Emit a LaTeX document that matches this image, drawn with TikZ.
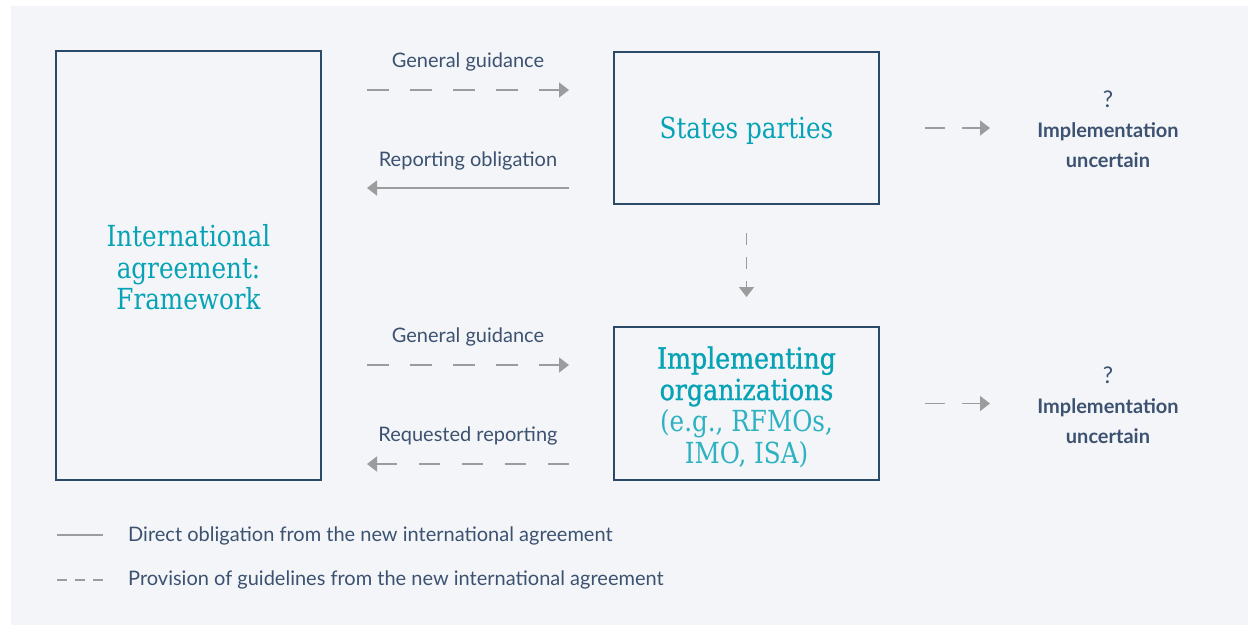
\documentclass[tikz,border=0pt]{standalone}
\usepackage{fontspec}
\setmainfont{Lato}
\newfontfamily\slab{DejaVu Serif}[FakeStretch=0.85]
\newfontfamily\slabsemi{DejaVu Serif}[FakeStretch=0.87,FakeBold=1]
\usetikzlibrary{arrows.meta}

\definecolor{panel}{HTML}{F3F5F8}
\definecolor{navy}{HTML}{2A4A68}
\definecolor{teal}{HTML}{06A2B6}
\definecolor{lightteal}{HTML}{2EB2C2}
\definecolor{ink}{HTML}{3C5270}
\definecolor{arrowgray}{HTML}{9B9C9E}

\begin{document}
\begin{tikzpicture}[x=1pt,y=-1pt,
  box/.style={draw=navy, line width=1.4pt, inner sep=0pt, outer sep=0pt},
  title/.style={align=center, text=teal, inner sep=0pt,
                font=\slab\fontsize{29}{31.5}\selectfont},
  lbl/.style={font=\fontsize{20}{24}\selectfont, text=ink, inner sep=0pt},
  outcome/.style={font=\bfseries\fontsize{20}{30}\selectfont, text=ink,
                  inner sep=0pt, align=center},
  direct/.style={draw=arrowgray, line width=1.6pt,
                 -{Triangle[length=10pt,width=15pt]}},
  guide/.style={direct, dash pattern=on 21.5pt off 21.5pt},
  shortguide/.style={direct, dash pattern=on 20pt off 17pt},
  vguide/.style={direct, dash pattern=on 12pt off 12pt},
  legline/.style={draw=arrowgray, line width=1.4pt}
]
\useasboundingbox (0,0) rectangle (1248,625);
\fill[panel] (11,6) rectangle (1248,625);

% main boxes
\node[box, minimum width=265pt, minimum height=429pt] (fw) at (188.5,265.5) {};
\node[box, minimum width=265pt, minimum height=152pt] (sp) at (746.5,128) {};
\node[box, minimum width=265pt, minimum height=153pt] (ip) at (746.5,403.5) {};

% box titles
\node[title] (fwt) at ([yshift=-2pt]fw.center)
  {International\\agreement:\\Framework};
\node[title] (spt) at ([yshift=-3pt]sp.center) {States parties};
\node[title] (ipt) at ([yshift=-3.5pt]ip.center)
  {{\slabsemi Implementing}\\{\slabsemi organizations}\\
   \textcolor{lightteal}{(e.g., RFMOs,}\\\textcolor{lightteal}{IMO, ISA)}};

% arrow labels
\node[lbl] (gg1) at (468,62) {General guidance};
\node[lbl] (ro)  at (468,161) {Reporting obligation};
\node[lbl] (gg2) at (468,337) {General guidance};
\node[lbl] (rr)  at (468,436) {Requested reporting};

% rows of the horizontal connectors
\coordinate (r1) at (0,90);
\coordinate (r2) at (0,188);
\coordinate (r3) at (0,365);
\coordinate (r4) at (0,464);

\draw[guide, shorten <=46pt, shorten >=45pt] (fw.east |- r1) -- (sp.west |- r1);
\draw[direct, shorten <=45pt, shorten >=46pt] (sp.west |- r2) -- (fw.east |- r2);
\draw[guide, shorten <=46pt, shorten >=45pt] (fw.east |- r3) -- (ip.west |- r3);
\draw[guide, shorten <=45pt, shorten >=46pt] (ip.west |- r4) -- (fw.east |- r4);

% states parties to implementing organizations
\draw[vguide, shorten <=29pt, shorten >=30pt] (sp.south) -- (ip.north);

% uncertain outcomes
\node[outcome] (u1) at (1108,129)
  {{\mdseries\fontsize{23}{30}\selectfont ?}\\Implementation\\uncertain};
\node[outcome] (u2) at (1108,405)
  {{\mdseries\fontsize{23}{30}\selectfont ?}\\Implementation\\uncertain};
\coordinate (t1) at (990,128);
\coordinate (t2) at (990,403.5);
\draw[shortguide, shorten <=46pt] (sp.east) -- (t1);
\draw[shortguide, shorten <=46pt] (ip.east) -- (t2);

% legend
\coordinate (la1) at (57,535);
\coordinate (la2) at (103,535);
\coordinate (lb1) at (57,580);
\coordinate (lb2) at (103,580);
\draw[legline] (la1) -- (la2);
\draw[legline, dash pattern=on 10pt off 8pt] (lb1) -- (lb2);
\node[lbl, anchor=west] (leg1) at (128,536)
  {Direct obligation from the new international agreement};
\node[lbl, anchor=west] (leg2) at (128,580)
  {Provision of guidelines from the new international agreement};
\end{tikzpicture}
\end{document}
